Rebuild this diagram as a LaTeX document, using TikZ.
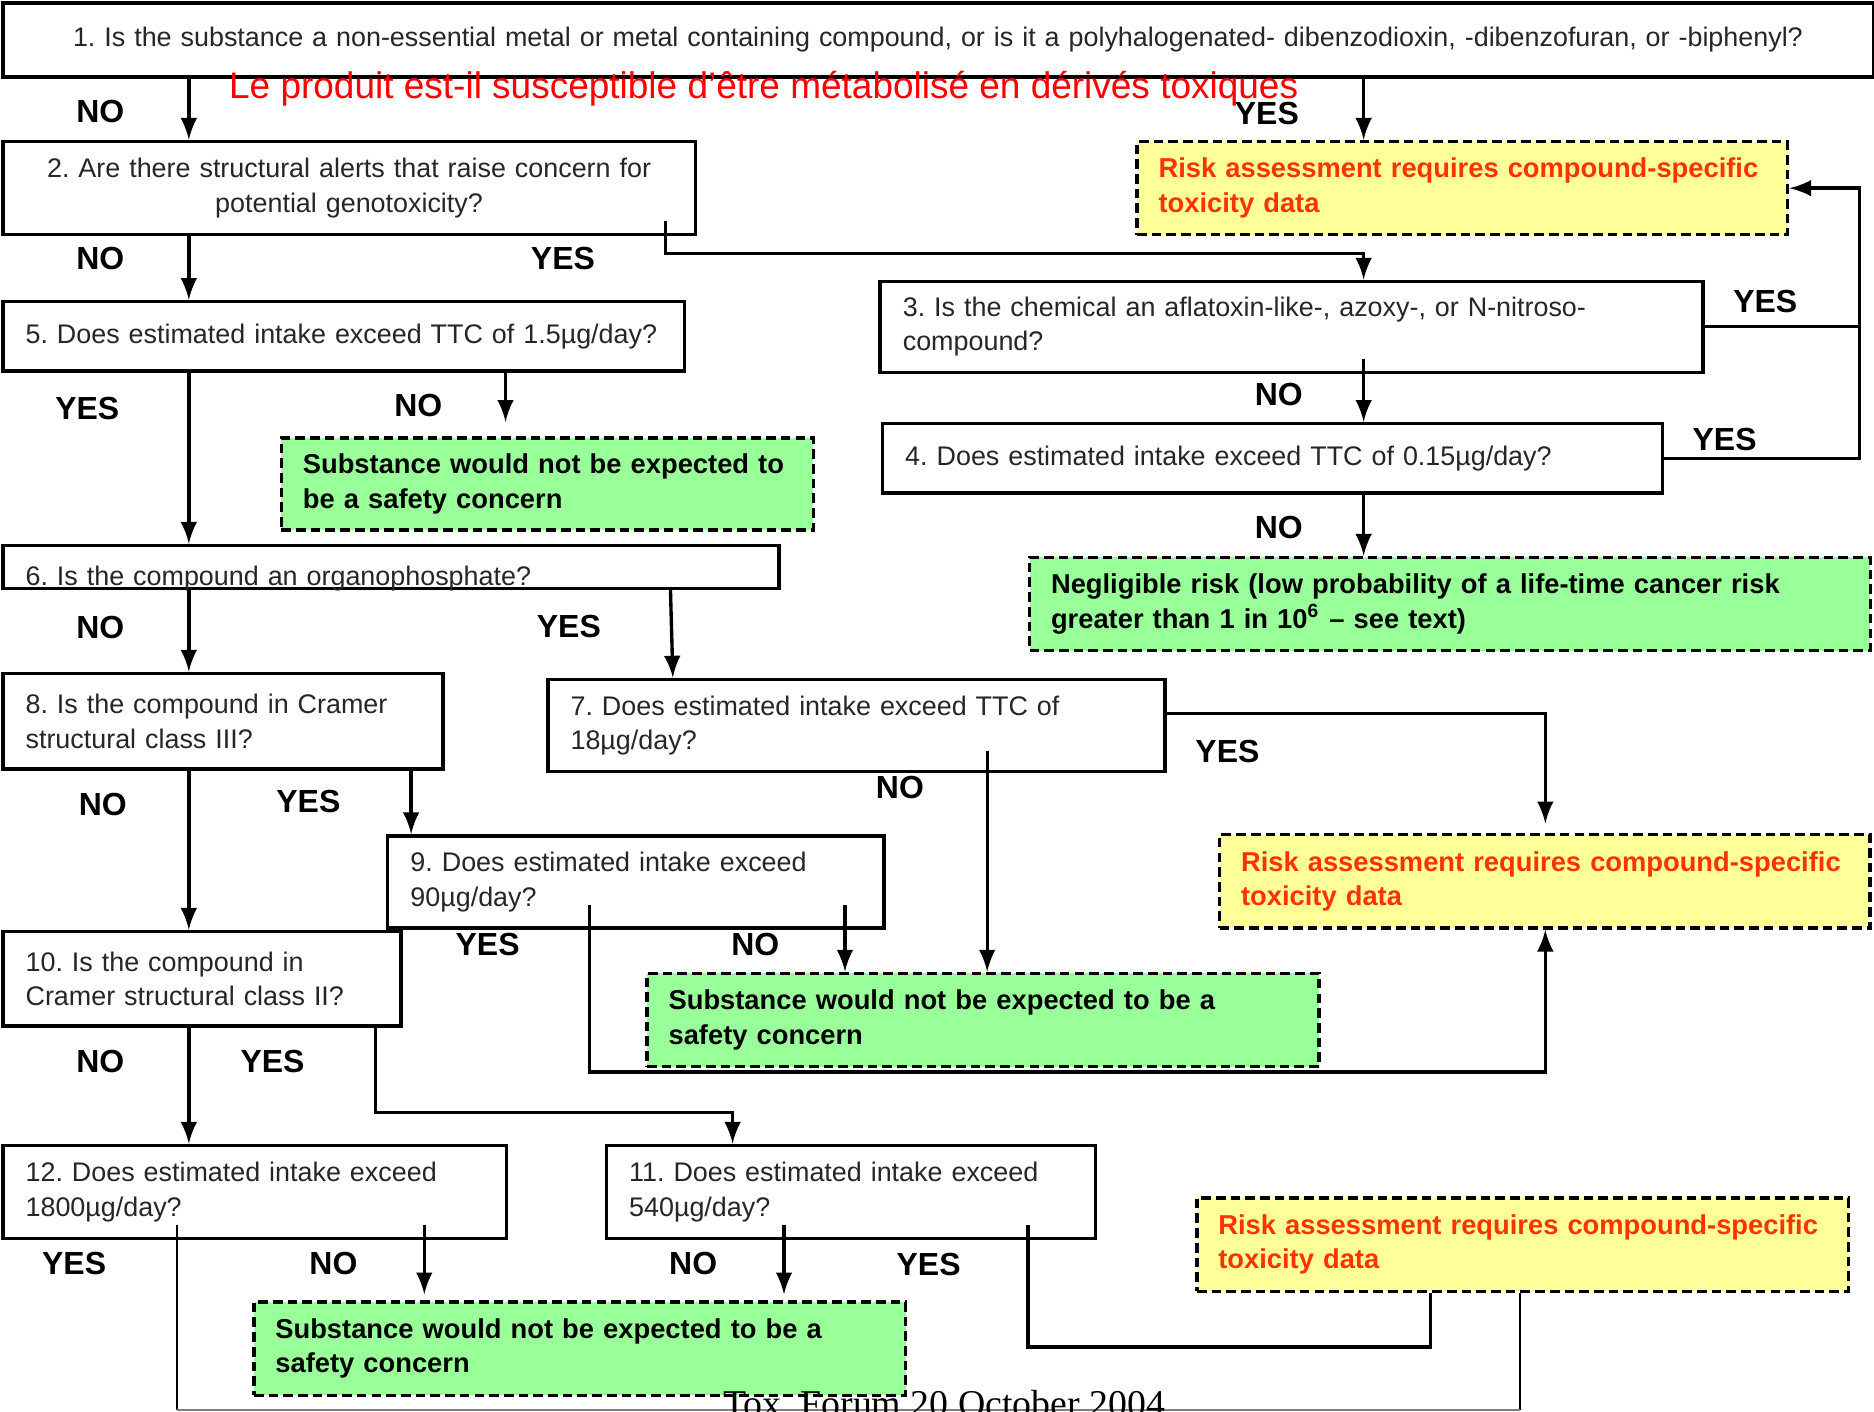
\documentclass[tikz,border=0pt]{standalone}
\usepackage{fontspec}
\setmainfont{Liberation Sans}
\newfontfamily\footfont{Liberation Serif}
\usepackage{tikz}
\usetikzlibrary{calc,positioning}
\definecolor{safegreen}{HTML}{99FF99}
\definecolor{riskyellow}{HTML}{FFFF99}
\definecolor{riskred}{HTML}{FF3300}
\frenchspacing
\tikzset{
  ttc scheme/.style = {
    x = 0.01cm, y = -0.01cm,
    line width = 0.8pt,
  },
  % question boxes
  qbox/.style = {draw, anchor=north west, inner xsep=0.19cm, inner ysep=0pt,
    align=left, text=black!85, font=\fontsize{6.4}{8.2}\selectfont},
  dims/.style n args = {3}{minimum width=#1, minimum height=#2, text width=#3},
  % result boxes
  rbox/.style  = {qbox, inner xsep=0.18cm, dash pattern=on 2.3pt off 1.2pt, text=black,
    font=\bfseries\fontsize{6.5}{8.2}\selectfont},
  safe/.style  = {rbox, fill=safegreen},
  risk/.style  = {rbox, fill=riskyellow, text=riskred},
  answer/.style = {font=\bfseries\fontsize{7.6}{8}\selectfont},
  arr/.style   = {-latex},
  thin line/.style = {line width=0.55pt},
}

\begin{document}
\begin{tikzpicture}[ttc scheme]
  \fill[white] (0,0) rectangle (1568,1181);
  \useasboundingbox (0,0) rectangle (1568,1181);
  \clip (0,0) rectangle (1568,1181);

  % questions
  \node[qbox, dims={15.64cm}{0.62cm}{15.26cm}, align=center] (q1) at (1,1)
    {1. Is the substance a non-essential metal or metal containing compound, or is it a polyhalogenated- dibenzodioxin, -dibenzofuran, or -biphenyl?};
  \node[qbox, dims={5.79cm}{0.78cm}{5.41cm}, align=center] (q2) at (1,117)
    {2. Are there structural alerts that raise concern for\\potential genotoxicity?};
  \node[qbox, dims={6.88cm}{0.76cm}{6.50cm}] (q3) at (735,234)
    {3. Is the chemical an aflatoxin-like-, azoxy-, or N-nitroso-\\compound?};
  \node[qbox, dims={6.52cm}{0.58cm}{6.14cm}] (q4) at (737,353)
    {4. Does estimated intake exceed TTC of 0.15µg/day?};
  \node[qbox, dims={5.70cm}{0.58cm}{5.32cm}] (q5) at (1,251)
    {5. Does estimated intake exceed TTC of 1.5µg/day?};
  \node[qbox, dims={6.49cm}{0.36cm}{6.11cm}, text height=0.335cm, text depth=0.025cm] (q6) at (1,455)
    {6. Is the compound an organophosphate?};
  \node[qbox, dims={5.16cm}{0.77cm}{4.78cm}] (q7) at (457,567)
    {7. Does estimated intake exceed TTC of\\18µg/day?};
  \node[qbox, dims={3.68cm}{0.80cm}{3.30cm}] (q8) at (1,562)
    {8. Is the compound in Cramer\\structural class III?};
  \node[qbox, dims={4.15cm}{0.77cm}{3.77cm}] (q9) at (323,698)
    {9. Does estimated intake exceed\\90µg/day?};
  \node[qbox, dims={3.33cm}{0.79cm}{2.95cm}] (q10) at (1,778)
    {10. Is the compound in\\Cramer structural class II?};
  \node[qbox, dims={4.09cm}{0.78cm}{3.71cm}] (q11) at (506,957)
    {11. Does estimated intake exceed\\540µg/day?};
  \node[qbox, dims={4.21cm}{0.78cm}{3.83cm}] (q12) at (1,957)
    {12. Does estimated intake exceed\\1800µg/day?};

  % outcomes
  \node[risk, dims={5.44cm}{0.78cm}{5.08cm}] (risk1) at (950,117)
    {Risk assessment requires compound-specific\\toxicity data};
  \node[risk, dims={5.44cm}{0.78cm}{5.08cm}] (risk2) at (1019,697)
    {Risk assessment requires compound-specific\\toxicity data};
  \node[risk, dims={5.45cm}{0.78cm}{5.09cm}] (risk3) at (1000,1001)
    {Risk assessment requires compound-specific\\toxicity data};
  \node[safe, dims={7.03cm}{0.78cm}{6.67cm}] (negl) at (860,465)
    {Negligible risk (low probability of a life-time cancer risk\\greater than 1 in 10\textsuperscript{6} -- see text)};
  \node[safe, dims={4.45cm}{0.77cm}{4.09cm}] (safe1) at (234,365)
    {Substance would not be expected to\\be a safety concern};
  \node[safe, dims={5.62cm}{0.78cm}{5.26cm}] (safe2) at (540,813)
    {Substance would not be expected to be a\\safety concern};
  \node[safe, dims={5.45cm}{0.78cm}{5.09cm}] (safe3) at (211,1088)
    {Substance would not be expected to be a\\safety concern};

  \node[red, font=\fontsize{8.8}{10}\selectfont] (fr) at (639,74)
    {Le produit est-il susceptible d’être métabolisé en dérivés toxiques};

  \path (158,0) coordinate (colA)    (1141,0) coordinate (colR)
        (1556,0) coordinate (busR)   (557,185) coordinate (c2y)
        (1141,212) coordinate (bus2) (1141,300) coordinate (c3n)
        (423,0) coordinate (c5n)     (561,0) coordinate (c6y)
        (563,0) coordinate (c7t)     (1293,0) coordinate (c7y)
        (826,628) coordinate (c7n)   (344,0) coordinate (c8y)
        (493,757) coordinate (c9y)   (1293,897) coordinate (bus9)
        (707,757) coordinate (c9n)   (314,0) coordinate (c10y)
        (613,931) coordinate (bus10) (148,1025) coordinate (c12y)
        (355,1025) coordinate (c12n) (656,1025) coordinate (c11n)
        (860,1025) coordinate (c11y) (1197,1127) coordinate (bus11)
        (1272,1180) coordinate (floor);

  \draw[arr] (q1.south -| colA) -- (q2.north -| colA);
  \draw[arr] (q1.south -| colR) -- (risk1.north -| colR);
  \draw[arr] (q2.south -| colA) -- (q5.north -| colA);
  \draw[arr] (c2y) |- (bus2) -- (q3.north -| colR);
  \draw[arr] (q3.east) -- (q3.east -| busR) |- (risk1.east);
  \draw (q4.east) -| (q3.east -| busR);
  \draw[arr] (c3n) -- (q4.north -| colR);
  \draw[arr] (q4.south -| colR) -- (negl.north -| colR);
  \draw[arr] (q5.south -| colA) -- (q6.north -| colA);
  \draw[arr, shorten >=0.12cm] (q5.south -| c5n) -- (safe1.north -| c5n);
  \draw[arr] (q6.south -| colA) -- (q8.north -| colA);
  \draw[arr] (q6.south -| c6y) -- (q7.north -| c7t);
  \draw[arr, shorten >=0.08cm] ([yshift=0.1cm]q7.east) -| (risk2.north -| c7y);
  \draw[arr] (c7n) -- (safe2.north -| c7n);
  \draw[arr] (q8.south -| colA) -- (q10.north -| colA);
  \draw[arr] (q8.south -| c8y) -- (q9.north -| c8y);
  \draw[arr] (c9y) |- (bus9) -- (risk2.south -| bus9);
  \draw[arr] (c9n) -- (safe2.north -| c9n);
  \draw[arr] (q10.south -| colA) -- (q12.north -| colA);
  \draw[arr] (q10.south -| c10y) |- (bus10) -- (q11.north -| bus10);
  \draw[arr, shorten >=0.05cm] (c12n) -- (safe3.north -| c12n);
  \draw[arr, shorten >=0.05cm] (c11n) -- (safe3.north -| c11n);
  \draw (c11y) |- (bus11) -- (risk3.south -| bus11);
  \draw[thin line] (c12y) -- (c12y |- floor);
  \draw[thin line] (risk3.south -| floor) -- (floor);
  \draw[thin line, gray] (c12y |- floor) -- (floor);

  \foreach \x/\y/\t [count=\i] in {84/93/NO, 1060/95/YES, 84/216/NO, 471/216/YES,
      1477/252/YES, 1070/330/NO, 1443/368/YES, 1070/441/NO, 73/342/YES, 350/339/NO,
      84/525/NO, 476/524/YES, 1027/629/YES, 753/659/NO, 86/673/NO, 258/671/YES,
      408/790/YES, 632/790/NO, 84/888/NO, 228/888/YES, 62/1057/YES, 279/1057/NO,
      580/1057/NO, 777/1058/YES}
    \node[answer] (ans\i) at (\x,\y) {\t};

  \node[font=\footfont\fontsize{9}{10}\selectfont, anchor=base] (foot) at (790,1185)
    {Tox. Forum 20 October 2004};
\end{tikzpicture}
\end{document}
